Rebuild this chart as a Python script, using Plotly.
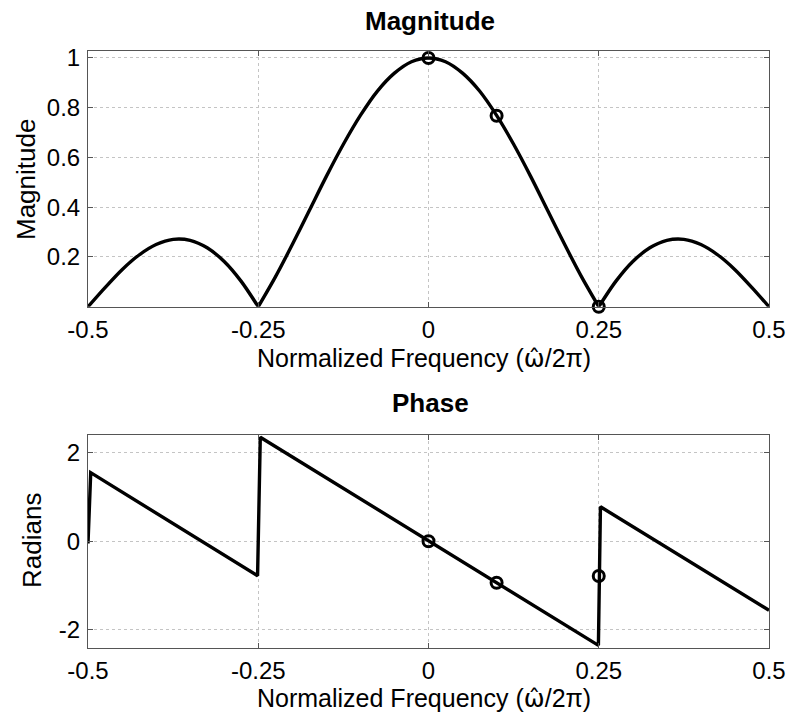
import plotly.graph_objects as go

# ---- data ----
freq = [-0.5, -0.475, -0.45, -0.425, -0.4, -0.375, -0.35, -0.325, -0.3, -0.275,
        -0.25, -0.225, -0.2, -0.175, -0.15, -0.125, -0.1, -0.075, -0.05, -0.025,
        0.0, 0.025, 0.05, 0.075, 0.1, 0.125, 0.15, 0.175, 0.2, 0.225,
        0.25, 0.275, 0.3, 0.325, 0.35, 0.375, 0.4, 0.425, 0.45, 0.475, 0.5]
magnitude = [0.0, 0.077, 0.149, 0.208, 0.25, 0.271, 0.267, 0.237, 0.182, 0.102,
             0.0, 0.119, 0.25, 0.387, 0.524, 0.653, 0.769, 0.867, 0.939, 0.985,
             1.0, 0.985, 0.939, 0.867, 0.769, 0.653, 0.524, 0.387, 0.25, 0.119,
             0.0, 0.102, 0.182, 0.237, 0.267, 0.271, 0.25, 0.208, 0.149, 0.077, 0.0]

phase_freq = [-0.5, -0.496, -0.251, -0.247, 0.2495, 0.2525, 0.5]
phase_rad = [-0.05, 1.55, -0.78, 2.35, -2.35, 0.78, -1.56]

mark_freq = [0.0, 0.1, 0.25]
mark_mag = [1.0, 0.768, 0.0]
mark_phase = [0.0, -0.935, -0.785]

x_ticks = [-0.5, -0.25, 0, 0.25, 0.5]
x_tick_text = ["-0.5", "-0.25", "0", "0.25", "0.5"]
mag_ticks = [0.2, 0.4, 0.6, 0.8, 1.0]
mag_tick_text = ["0.2", "0.4", "0.6", "0.8", "1"]
ph_ticks = [-2, 0, 2]
ph_tick_text = ["-2", "0", "2"]

# split magnitude into lobes at interior zeros so the spline keeps the cusps
seg_x, seg_y = [], []
cur_x, cur_y = [], []
for i, (f, m) in enumerate(zip(freq, magnitude)):
    cur_x.append(f)
    cur_y.append(m)
    if m == 0.0 and 0 < i < len(freq) - 1:
        seg_x += cur_x + [None]
        seg_y += cur_y + [None]
        cur_x, cur_y = [f], [m]
seg_x += cur_x
seg_y += cur_y

W, H = 791, 713
FONT = "Liberation Sans, Arial, Helvetica, sans-serif"

fig = go.Figure()
fig.add_trace(go.Scatter(x=seg_x, y=seg_y, mode="lines", connectgaps=False,
                         line=dict(color="black", width=3.4, shape="spline", smoothing=0.8),
                         xaxis="x", yaxis="y", showlegend=False))
fig.add_trace(go.Scatter(x=mark_freq, y=mark_mag, mode="markers",
                         marker=dict(symbol="circle-open", size=11, color="black",
                                     line=dict(width=3, color="black")),
                         xaxis="x", yaxis="y", showlegend=False, cliponaxis=False))
fig.add_trace(go.Scatter(x=phase_freq, y=phase_rad, mode="lines",
                         line=dict(color="black", width=3.4),
                         xaxis="x2", yaxis="y2", showlegend=False))
fig.add_trace(go.Scatter(x=mark_freq, y=mark_phase, mode="markers",
                         marker=dict(symbol="circle-open", size=11, color="black",
                                     line=dict(width=3, color="black")),
                         xaxis="x2", yaxis="y2", showlegend=False, cliponaxis=False))

xd = [88 / W, 769 / W]
common_axis = dict(showline=True, linecolor="#555555", linewidth=1, mirror="ticks",
                   ticks="inside", ticklen=5, tickcolor="#555555", automargin=False,
                   showgrid=True, gridcolor="#c4c4c4", griddash="dot", gridwidth=1,
                   zeroline=False, tickfont=dict(family=FONT, size=24, color="black"))

fig.update_layout(
    width=W, height=H,
    margin=dict(l=0, r=0, t=0, b=0, autoexpand=False),
    paper_bgcolor="white", plot_bgcolor="white",
    xaxis=dict(domain=xd, range=[-0.5, 0.5], tickvals=x_ticks, ticktext=x_tick_text,
               anchor="y", ticklabelstandoff=1, **common_axis),
    yaxis=dict(domain=[1 - 306.75 / H, 1 - 51 / H], range=[0, 1.028],
               tickvals=mag_ticks, ticktext=mag_tick_text, anchor="x",
               ticklabelstandoff=2, **common_axis),
    xaxis2=dict(domain=xd, range=[-0.5, 0.5], tickvals=x_ticks, ticktext=x_tick_text,
                anchor="y2", ticklabelstandoff=1, **common_axis),
    yaxis2=dict(domain=[1 - 648 / H, 1 - 435 / H], range=[-2.41, 2.4],
                tickvals=ph_ticks, ticktext=ph_tick_text, anchor="x2",
                ticklabelstandoff=2, **common_axis),
)

def ann(text, x, y, size, bold=False, angle=0):
    fig.add_annotation(text=f"<b>{text}</b>" if bold else text,
                       x=x / W, y=1 - y / H, xref="paper", yref="paper",
                       showarrow=False, textangle=angle,
                       font=dict(family=FONT, size=size, color="black"),
                       xanchor="center", yanchor="middle")

xt = ("Normalized Frequency (<span style=\"font-family:'DejaVu Sans'\">\u03c9\u0302</span>"
      "/2\u03c0)")
ann("Magnitude", 430, 21, 26, bold=True)
ann("Phase", 430, 403, 26, bold=True)
ann(xt, 424, 359, 25)
ann(xt, 424, 698, 25)
ann("Magnitude", 26, 180, 26, angle=-90)
ann("Radians", 32, 541, 26, angle=-90)

fig.write_html("out.html", config={"displayModeBar": False},
               post_script="document.body.style.margin='0px';document.body.style.overflow='hidden';")
